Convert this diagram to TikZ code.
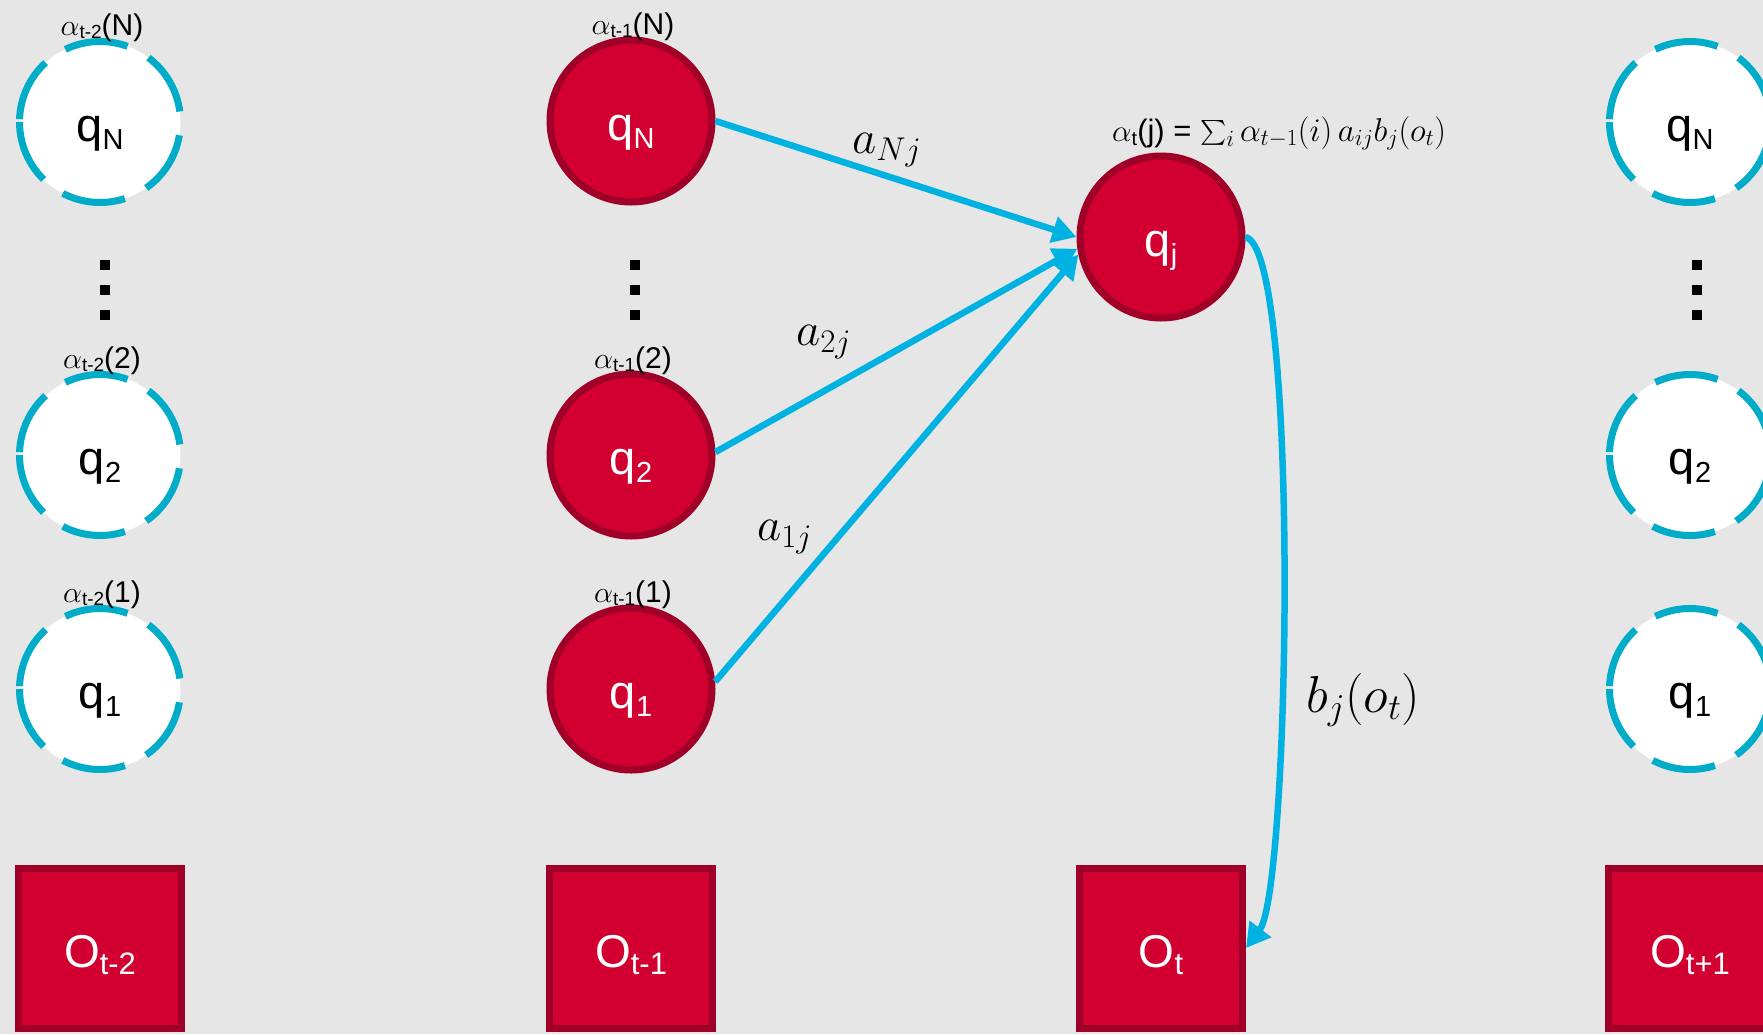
\RequirePackage{fix-cm}
\documentclass[tikz,border=0pt]{standalone}
\usepackage{exscale}
\usepackage[no-math]{fontspec}
\setmainfont{Liberation Sans}
\usetikzlibrary{arrows.meta}
\definecolor{bgcol}{HTML}{E6E6E6}
\definecolor{rfill}{HTML}{D20030}
\definecolor{rdraw}{HTML}{A00028}
\definecolor{arrcol}{HTML}{00B2E2}
\definecolor{dashcol}{HTML}{00ACC8}
\newcommand\qlab[1]{q\raisebox{-8pt}{\fontsize{29}{29}\selectfont #1}}
\newcommand\olab[1]{O\raisebox{-7pt}{\fontsize{31}{31}\selectfont #1}}
\newcommand\alphalab[2]{$\alpha$\raisebox{-3pt}{\fontsize{19}{19}\selectfont #1}(#2)}
\newcommand\dashring[1]{%
  \foreach \ii in {0,...,5}{%
    \draw[dashcol, line width=7pt] (#1.center) ++({180-\ii*62.5}:80.5)
      arc[start angle={180-\ii*62.5}, delta angle=-45.5, radius=80.5];}}
\tikzset{
  qfont/.style={font=\fontsize{47}{50}\selectfont},
  dashnode/.style={circle, fill=white, minimum size=161pt, inner sep=0pt,
    text height=49pt, text depth=10pt, qfont},
  rednode/.style={circle, fill=rfill, draw=rdraw, line width=7pt,
    minimum size=162pt, inner sep=0pt, text=white,
    text height=49pt, text depth=10pt, qfont},
  obsnode/.style={rectangle, fill=rfill, draw=rdraw, line width=7pt,
    minimum width=163pt, minimum height=160pt, inner sep=0pt, text=white,
    text height=46pt, text depth=7pt, font=\fontsize{46}{50}\selectfont},
  alab/.style={anchor=base, inner sep=0pt, font=\fontsize{30}{32}\selectfont},
  mlab/.style={anchor=base west, inner sep=0pt},
  arr/.style={draw=arrcol, line width=6.5pt, -{Triangle[length=24pt,width=26pt]}},
  dotbox/.style={rectangle, fill=black, minimum size=10pt, inner sep=0pt}
}
\begin{document}
\begin{tikzpicture}[x=1pt,y=-1pt]
\useasboundingbox (0,0) rectangle (1763,1034);
\clip (0,0) rectangle (1763,1034);
\fill[bgcol] (0,0) rectangle (1763,1034);

% left column (t-2)
\node[dashnode] (L3) at (100,122) {\qlab{N}};
\node[dashnode] (L2) at (100,455) {\qlab{2}};
\node[dashnode] (L1) at (100,689) {\qlab{1}};
\dashring{L3}\dashring{L2}\dashring{L1}
\node[alab] (aL3) at (102,35) {\alphalab{t-2}{N}};
\node[alab] (aL2) at (102,368) {\alphalab{t-2}{2}};
\node[alab] (aL1) at (102,602) {\alphalab{t-2}{1}};
\node[dotbox] (dL1) at (105,265) {};
\node[dotbox] (dL2) at (105,290) {};
\node[dotbox] (dL3) at (105,315) {};

% middle column (t-1)
\node[rednode] (M3) at (631,121) {\qlab{N}};
\node[rednode] (M2) at (631,455) {\qlab{2}};
\node[rednode] (M1) at (631,689) {\qlab{1}};
\node[alab] (aM3) at (633,34) {\alphalab{t-1}{N}};
\node[alab] (aM2) at (633,368) {\alphalab{t-1}{2}};
\node[alab] (aM1) at (633,602) {\alphalab{t-1}{1}};
\node[dotbox] (dM1) at (635,265) {};
\node[dotbox] (dM2) at (635,290) {};
\node[dotbox] (dM3) at (635,315) {};

% column t
\node[rednode] (J) at (1161,237) {\qlab{j}};
\node[mlab, font=\fontsize{31}{33}\selectfont] (F) at (1112,141)
  {$\alpha$\raisebox{-4pt}{\fontsize{20}{20}\selectfont t}(j) = {\fontsize{33}{35}\selectfont$\sum_i \alpha_{t-1}(i)\,a_{ij}b_j(o_t)$}};

% right column (t+1)
\node[dashnode] (R3) at (1690,122) {\qlab{N}};
\node[dashnode] (R2) at (1690,455) {\qlab{2}};
\node[dashnode] (R1) at (1690,689) {\qlab{1}};
\dashring{R3}\dashring{R2}\dashring{R1}
\node[dotbox] (dR1) at (1697,265) {};
\node[dotbox] (dR2) at (1697,290) {};
\node[dotbox] (dR3) at (1697,315) {};

% observations
\node[obsnode] (O1) at (100,948) {\olab{t-2}};
\node[obsnode] (O2) at (631,948) {\olab{t-1}};
\node[obsnode] (O3) at (1161,948) {\olab{t}};
\node[obsnode] (O4) at (1690,948) {\olab{t+1}};

% transitions
\draw[arr] (M3.east) -- (J.west);
\draw[arr] (M2.2) -- (J.188);
\draw[arr] (M1.5) -- (J.192);
\node[mlab, font=\fontsize{47}{50}\selectfont] (lN) at (852,153) {$a_{Nj}$};
\node[mlab, font=\fontsize{47}{50}\selectfont] (l2) at (796,345) {$a_{2j}$};
\node[mlab, font=\fontsize{47}{50}\selectfont] (l1) at (757,540) {$a_{1j}$};

% emission
\draw[arr] (J.east) .. controls +(55,13) and +(44,-58) .. (O3.east);
\node[mlab, font=\fontsize{52}{56}\selectfont] (lb) at (1306,712) {$b_j(o_t)$};
\end{tikzpicture}
\end{document}
